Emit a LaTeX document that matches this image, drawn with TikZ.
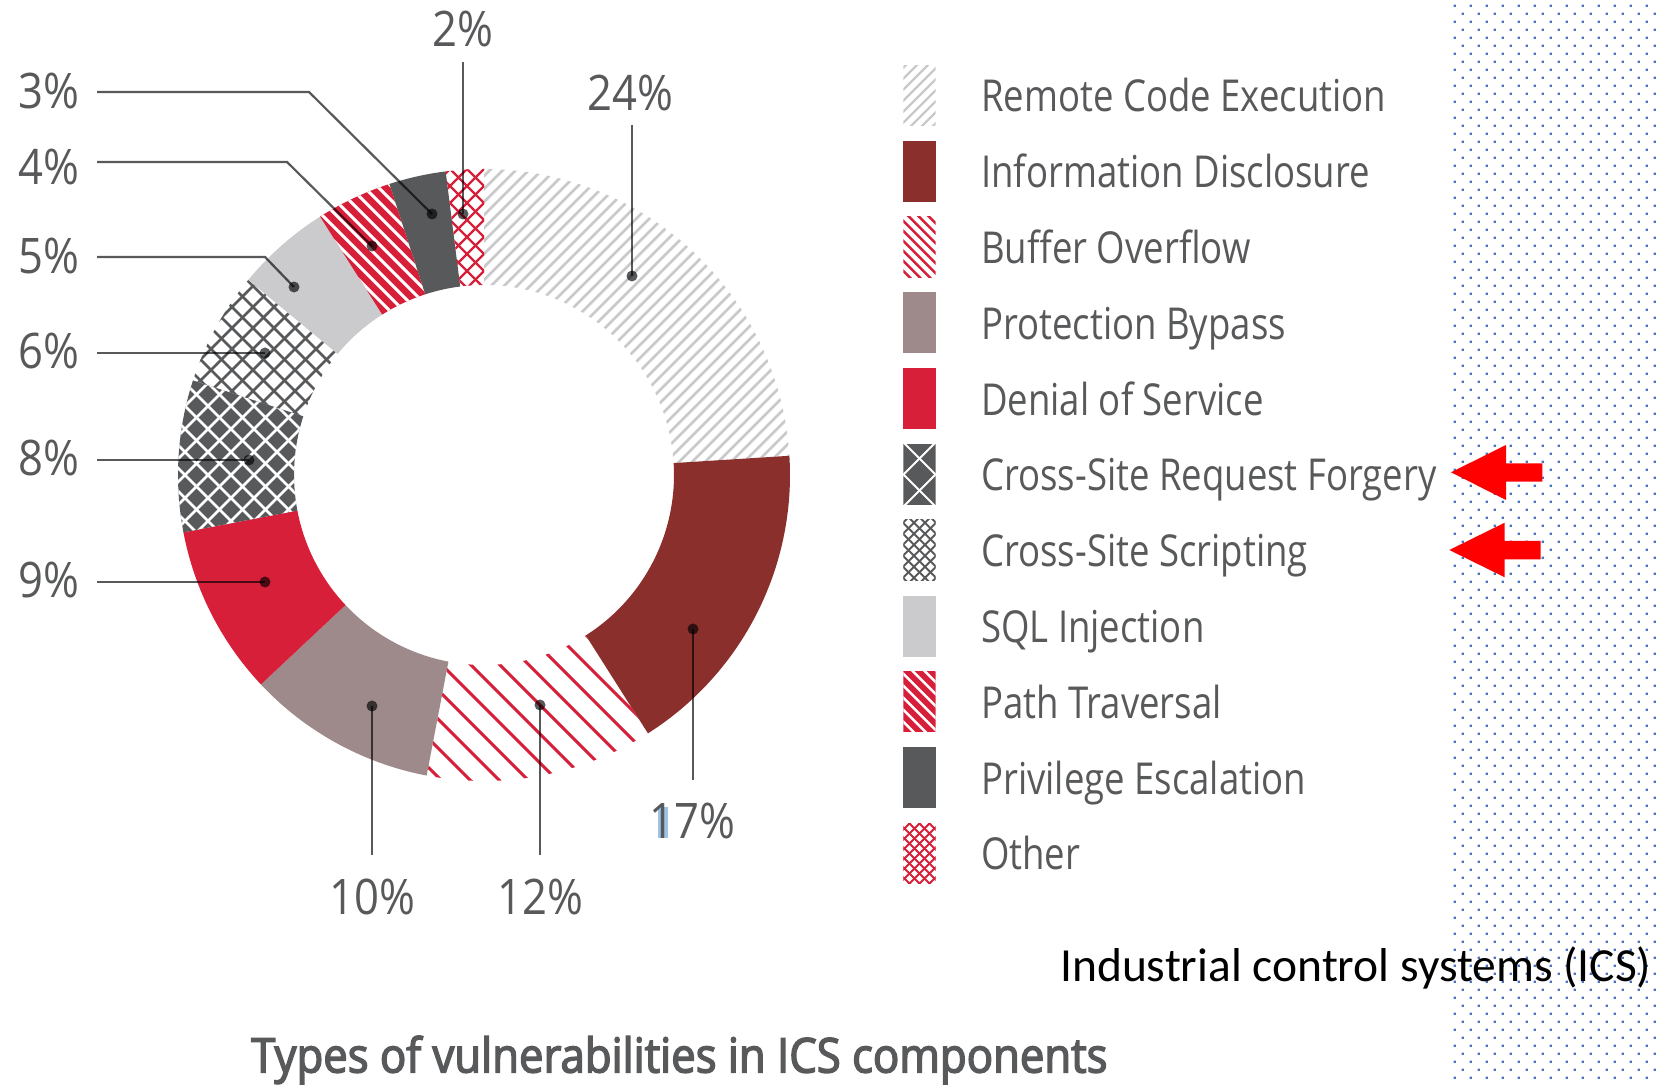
\documentclass[tikz,border=0pt]{standalone}
\usepackage{fontspec}
\setmainfont{Open Sans}
\newfontfamily\pctfont{Open Sans}[FakeStretch=0.89]
\newfontfamily\legfont{Open Sans}[FakeStretch=0.83]
\newfontfamily\titlefont{Open Sans}[FakeStretch=0.91,FakeBold=3]
\newfontfamily\noteface{Carlito}

\definecolor{inkgray}{HTML}{58595B}
\definecolor{rcegray}{HTML}{C9C9CB}
\definecolor{infored}{HTML}{8B2F2D}
\definecolor{vulnred}{HTML}{D71F3A}
\definecolor{bypass}{HTML}{9E8A8B}
\definecolor{sqlgray}{HTML}{CBCACD}
\definecolor{dotblue}{HTML}{4472C4}
\definecolor{cursorblue}{HTML}{9DC3E6}
\definecolor{arrowred}{HTML}{FF0000}

% parallel hatch lines: period, count, half length, style
\newcommand\hatchNE[4]{\foreach \k in {-#2,...,#2}{\draw[#4] ({\k*#1-#3},{-#3}) -- ({\k*#1+#3},{#3});}}
\newcommand\hatchNW[4]{\foreach \k in {-#2,...,#2}{\draw[#4] ({\k*#1-#3},{#3}) -- ({\k*#1+#3},{-#3});}}

\tikzset{
  ring/.style 2 args={insert path={(#1:306pt) arc[start angle=#1,end angle=#2,radius=306pt]
      -- (#2:190pt) arc[start angle=#2,end angle=#1,radius=190pt] -- cycle}},
  leader/.style={draw=inkgray, line width=2.2pt},
  tipdot/.style={fill=inkgray},
  pct/.style={inner sep=0pt, text=inkgray, font=\pctfont\fontsize{49}{58}\selectfont},
  legtext/.style={inner sep=0pt, anchor=base west, text=inkgray, font=\legfont\fontsize{44}{52}\selectfont},
  swatch/.style={minimum width=32pt, minimum height=60.5pt, inner sep=0pt, draw=none},
}

\begin{document}
\begin{tikzpicture}[x=1pt,y=1pt]
\useasboundingbox (0,0) rectangle (1663,1085);

% dotted strip on the right
\fill[dotblue] \foreach \r in {0,...,134} { \foreach \c in {0,...,12} {
  ({1453.6+16*\c+8*mod(\r,2)},{1085-6.8-8*\r}) rectangle ++(2.2,2.2) } };

% ---------------- donut ----------------
\begin{scope}[shift={(484,610)}]
  % Remote Code Execution 24%
  \begin{scope}
    \clip[ring={90}{3.6}];
    \hatchNE{13}{34}{340}{draw=rcegray,line width=2.6pt}
  \end{scope}
  % Information Disclosure 17%
  \fill[infored, ring={3.6}{-57.6}];
  % Buffer Overflow 12%
  \begin{scope}
    \clip[ring={-57.6}{-100.8}];
    \hatchNW{29}{16}{340}{draw=vulnred,line width=3pt}
  \end{scope}
  % Protection Bypass 10%
  \fill[bypass, ring={-100.8}{-136.8}];
  % Denial of Service 9%
  \fill[vulnred, ring={-136.8}{-169.2}];
  % Cross-Site Request Forgery 8%
  \begin{scope}
    \clip[ring={-169.2}{-198}];
    \fill[inkgray] (-320,-320) rectangle (320,320);
    \hatchNE{23}{20}{340}{draw=white,line width=2.5pt}
    \hatchNW{23}{20}{340}{draw=white,line width=2.5pt}
  \end{scope}
  % Cross-Site Scripting 6%
  \begin{scope}
    \clip[ring={-198}{-219.6}];
    \hatchNE{21}{22}{340}{draw=inkgray,line width=2.5pt}
    \hatchNW{21}{22}{340}{draw=inkgray,line width=2.5pt}
  \end{scope}
  % SQL Injection 5%
  \fill[sqlgray, ring={-219.6}{-237.6}];
  % Path Traversal 4%
  \begin{scope}
    \clip[ring={-237.6}{-252}];
    \fill[vulnred] (-320,-320) rectangle (320,320);
    \hatchNW{14}{32}{340}{draw=white,line width=3pt}
  \end{scope}
  % Privilege Escalation 3%
  \fill[inkgray, ring={-252}{-262.8}];
  % Other 2%
  \begin{scope}
    \clip[ring={-262.8}{-270}];
    \hatchNE{17}{26}{340}{draw=vulnred,line width=2.3pt}
    \hatchNW{17}{26}{340}{draw=vulnred,line width=2.3pt}
  \end{scope}
\end{scope}

% ---------------- percentage labels ----------------
\fill[cursorblue] (658,247) rectangle (668,278);
\node[pct, anchor=base] (p2)  at (463,1038.5) {2\%};
\node[pct, anchor=base east] (p3) at (80,976.5) {3\%};
\node[pct, anchor=base east] (p4) at (80,900.5) {4\%};
\node[pct, anchor=base east] (p5) at (80,811.5) {5\%};
\node[pct, anchor=base east] (p6) at (80,716.5) {6\%};
\node[pct, anchor=base east] (p8) at (80,609.5) {8\%};
\node[pct, anchor=base east] (p9) at (80,487.5) {9\%};
\node[pct, anchor=base] (p10) at (372,170.5) {10\%};
\node[pct, anchor=base] (p12) at (540,170.5) {12\%};
\node[pct, anchor=base] (p17) at (692,246.5) {17\%};
\node[pct, anchor=base] (p24) at (630,974.5) {24\%};

% leader ends on the ring
\coordinate (d2)  at (463,871);
\coordinate (d3)  at (432,871);
\coordinate (d4)  at (372,839);
\coordinate (d5)  at (294,798);
\coordinate (d6)  at (265,732);
\coordinate (d8)  at (249,625);
\coordinate (d9)  at (265,503);
\coordinate (d10) at (372,379);
\coordinate (d12) at (540,380);
\coordinate (d17) at (693,456);
\coordinate (d24) at (632,809);
% leader ends near the labels
\coordinate (s2)  at (463,1023);
\coordinate (s3)  at (97,993);
\coordinate (s4)  at (97,923);
\coordinate (s5)  at (97,828);
\coordinate (s6)  at (97,732);
\coordinate (s8)  at (97,625);
\coordinate (s9)  at (97,503);
\coordinate (s10) at (372,230);
\coordinate (s12) at (540,230);
\coordinate (s17) at (693,305);
\coordinate (s24) at (632,960);

\begin{scope}[blend mode=multiply]
  \draw[leader] (s2) -- (d2);
  \draw[leader] (s3) -- (309,993) -- (d3);
  \draw[leader] (s4) -- (287,923) -- (d4);
  \draw[leader] (s5) -- (265,828) -- (d5);
  \draw[leader] (s6) -- (d6);
  \draw[leader] (s8) -- (d8);
  \draw[leader] (s9) -- (d9);
  \draw[leader] (s10) -- (d10);
  \draw[leader] (s12) -- (d12);
  \draw[leader] (s17) -- (d17);
  \draw[leader] (s24) -- (d24);
  \foreach \d in {d2,d3,d4,d5,d6,d8,d9,d10,d12,d17,d24}
    \fill[tipdot] (\d) circle[radius=5.5];
\end{scope}

% ---------------- legend ----------------
\foreach \i/\lab in {0/Remote Code Execution,1/Information Disclosure,2/Buffer Overflow,
  3/Protection Bypass,4/Denial of Service,5/Cross-Site Request Forgery,6/Cross-Site Scripting,
  7/SQL Injection,8/Path Traversal,9/Privilege Escalation,10/Other}{
  \node[swatch] (sw\i) at (919.5,{989.5-75.8*\i}) {};
  \node[legtext] (lg\i) at (981,{989.5-75.8*\i-16.5}) {\lab};
}
% swatch fills
\begin{scope}
  \clip (sw0.south west) rectangle (sw0.north east);
  \begin{scope}[shift={(sw0.center)}]
    \hatchNE{11}{8}{45}{draw=rcegray,line width=2.2pt}
  \end{scope}
\end{scope}
\fill[infored] (sw1.south west) rectangle (sw1.north east);
\begin{scope}
  \clip (sw2.south west) rectangle (sw2.north east);
  \begin{scope}[shift={(sw2.center)}]
    \hatchNW{10}{9}{45}{draw=vulnred,line width=2.5pt}
  \end{scope}
\end{scope}
\fill[bypass] (sw3.south west) rectangle (sw3.north east);
\fill[vulnred] (sw4.south west) rectangle (sw4.north east);
\begin{scope}
  \clip (sw5.south west) rectangle (sw5.north east);
  \fill[inkgray] (sw5.south west) rectangle (sw5.north east);
  \begin{scope}[shift={(sw5.center)}, yshift=16]
    \hatchNE{32}{3}{50}{draw=white,line width=1.8pt}
    \hatchNW{32}{3}{50}{draw=white,line width=1.8pt}
  \end{scope}
\end{scope}
\begin{scope}
  \clip (sw6.south west) rectangle (sw6.north east);
  \begin{scope}[shift={(sw6.center)}]
    \hatchNE{11}{9}{45}{draw=inkgray,line width=2pt}
    \hatchNW{11}{9}{45}{draw=inkgray,line width=2pt}
  \end{scope}
\end{scope}
\fill[sqlgray] (sw7.south west) rectangle (sw7.north east);
\begin{scope}
  \clip (sw8.south west) rectangle (sw8.north east);
  \fill[vulnred] (sw8.south west) rectangle (sw8.north east);
  \begin{scope}[shift={(sw8.center)}]
    \hatchNW{12}{8}{45}{draw=white,line width=2.4pt}
  \end{scope}
\end{scope}
\fill[inkgray] (sw9.south west) rectangle (sw9.north east);
\begin{scope}
  \clip (sw10.south west) rectangle (sw10.north east);
  \begin{scope}[shift={(sw10.center)}]
    \hatchNE{10}{9}{45}{draw=vulnred,line width=2pt}
    \hatchNW{10}{9}{45}{draw=vulnred,line width=2pt}
  \end{scope}
\end{scope}

% ---------------- arrows pointing at the two cross-site rows ----------------
\fill[arrowred] (1451,612.7) -- (1506,640) -- (1506,621.7) -- (1542.3,621.7)
  -- (1542.3,603.3) -- (1506,603.3) -- (1506,585) -- cycle;
\fill[arrowred] (1449.3,535) -- (1504.7,562.3) -- (1504.7,544) -- (1540.7,544)
  -- (1540.7,525.7) -- (1504.7,525.7) -- (1504.7,507.7) -- cycle;

% ---------------- captions ----------------
\node[inner sep=0pt, anchor=base west, text=black, font=\noteface\fontsize{47.5}{56}\selectfont]
  (ics) at (1060,103) {Industrial control systems (ICS)};
\node[inner sep=0pt, anchor=base west, text=inkgray, font=\titlefont\fontsize{48}{58}\selectfont]
  (title) at (251,12.5) {Types of vulnerabilities in ICS components};
\end{tikzpicture}
\end{document}
